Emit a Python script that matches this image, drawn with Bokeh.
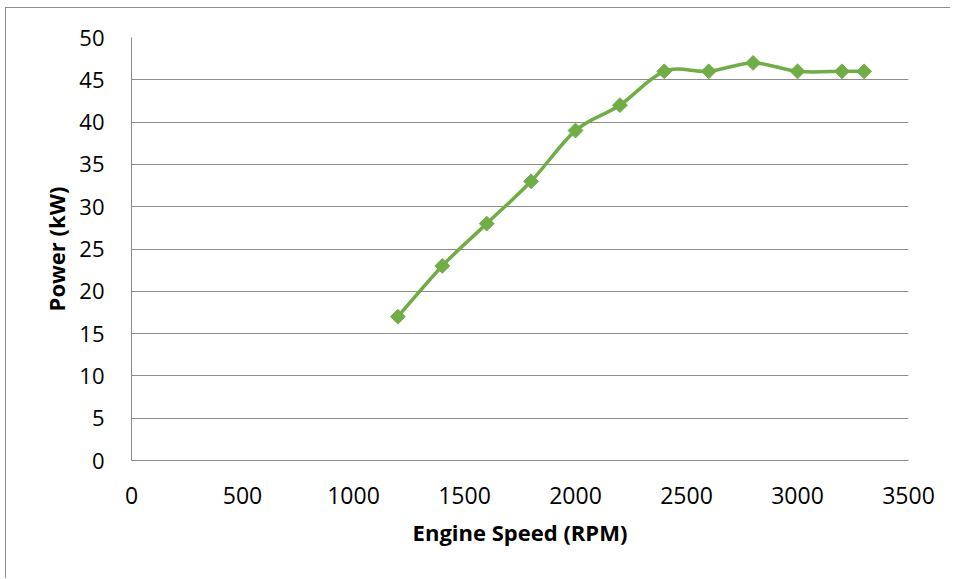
import math
from bokeh.plotting import figure
from bokeh.models import Range1d, FixedTicker
from bokeh.embed import file_html
from bokeh.resources import INLINE

# Data
engine_speed = [1200, 1400, 1600, 1800, 2000, 2200, 2400, 2600, 2800, 3000, 3200, 3300]
power_kw = [17, 23, 28, 33, 39, 42, 46, 46, 47, 46, 46, 46]
x_ticks = [0, 500, 1000, 1500, 2000, 2500, 3000, 3500]
y_ticks = [0, 5, 10, 15, 20, 25, 30, 35, 40, 45, 50]

FONT = "Open Sans"
GREEN = "#70AD47"
GRID = "#8c8c8c"

p = figure(width=945, height=571, output_backend="svg", toolbar_location=None,
           x_range=Range1d(0, 3500), y_range=Range1d(0, 50),
           min_border_left=125, min_border_right=43, min_border_top=29, min_border_bottom=119,
           styles={"border-left": "1px solid #8c8c8c", "border-top": "1px solid #8c8c8c",
                   "margin-left": "5px", "margin-top": "7px"})
p.outline_line_color = None
p.background_fill_color = "white"
p.border_fill_color = "white"

# Smoothed line (Catmull-Rom -> cubic Bezier), computed from data
n = len(engine_speed)
x0, y0, x1, y1, cx0, cy0, cx1, cy1 = [], [], [], [], [], [], [], []
for i in range(n - 1):
    pm = max(i - 1, 0)
    pp = min(i + 2, n - 1)
    xa, ya = engine_speed[i], power_kw[i]
    xb, yb = engine_speed[i + 1], power_kw[i + 1]
    x0.append(xa); y0.append(ya); x1.append(xb); y1.append(yb)
    cx0.append(xa + (xb - engine_speed[pm]) / 6.0)
    cy0.append(ya + (yb - power_kw[pm]) / 6.0)
    cx1.append(xb - (engine_speed[pp] - xa) / 6.0)
    cy1.append(yb - (power_kw[pp] - ya) / 6.0)
p.bezier(x0=x0, y0=y0, x1=x1, y1=y1, cx0=cx0, cy0=cy0, cx1=cx1, cy1=cy1,
         line_color=GREEN, line_width=3.5)
p.scatter(engine_speed, power_kw, marker="square", size=10.5, angle=math.pi / 4,
          fill_color=GREEN, line_color=GREEN)

# Axes
p.xaxis.ticker = FixedTicker(ticks=x_ticks)
p.yaxis.ticker = FixedTicker(ticks=y_ticks)
for ax in (p.xaxis[0], p.yaxis[0]):
    ax.major_tick_line_color = None
    ax.minor_tick_line_color = None
    ax.axis_line_color = GRID
    ax.axis_line_width = 1
    ax.major_label_text_font = FONT
    ax.major_label_text_font_size = "22px"
    ax.major_label_text_color = "black"
    ax.axis_label_text_font = FONT
    ax.axis_label_text_font_size = "22px"
    ax.axis_label_text_font_style = "bold"
    ax.axis_label_text_color = "black"
p.xaxis.major_label_text_font_size = "23px"
p.xaxis.axis_label = "Engine Speed (RPM)"
p.yaxis.axis_label = "Power (kW)"
p.xaxis.major_label_standoff = 20
p.yaxis.major_label_standoff = 21
p.xaxis.axis_label_standoff = 10
p.yaxis.axis_label_standoff = 5

p.xgrid.grid_line_color = None
p.ygrid.grid_line_color = GRID
p.ygrid.grid_line_width = 1

open("out.html", "w").write(file_html(p, INLINE))
